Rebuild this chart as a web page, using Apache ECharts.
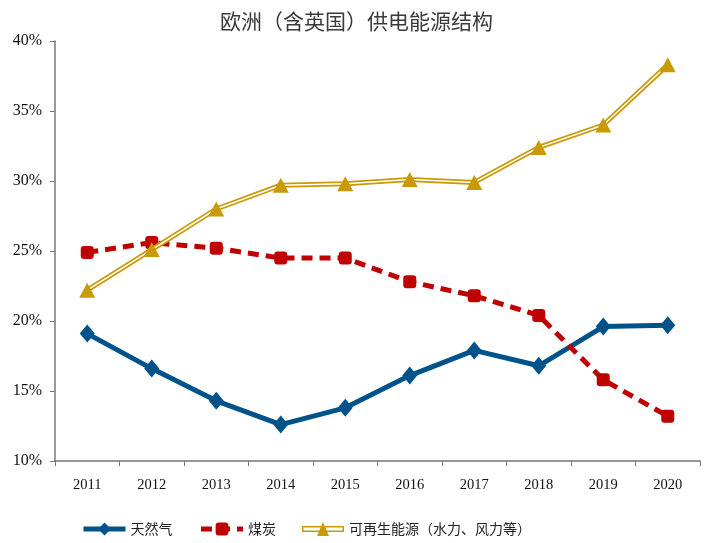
<!DOCTYPE html>
<html><head><meta charset="utf-8">
<script src="https://cdn.jsdelivr.net/npm/echarts@6/dist/echarts.min.js"></script>
<style>html,body{margin:0;padding:0;background:#fff}#c{width:713px;height:543px}</style>
</head><body><div id="c"></div>
<script>
var years = ['2011','2012','2013','2014','2015','2016','2017','2018','2019','2020'];
var gas = [19.1, 16.6, 14.3, 12.6, 13.8, 16.1, 17.9, 16.8, 19.6, 19.7];
var coal = [24.9, 25.6, 25.2, 24.5, 24.5, 22.8, 21.8, 20.4, 15.8, 13.2];
var renew = [22.2, 25.1, 28.0, 29.7, 29.8, 30.1, 29.9, 32.4, 34.0, 38.3];
var yTicks = [10, 15, 20, 25, 30, 35, 40];
var names = ['天然气', '煤炭', '可再生能源（水力、风力等）'];

var chart = echarts.init(document.getElementById('c'));
var serifFont = '"Liberation Serif", "Times New Roman", serif';
var cjk = '"Noto Sans CJK SC", sans-serif';
var gold = '#C99A06';
chart.setOption({
  animation: false,
  title: {text: '欧洲（含英国）供电能源结构', left: 'center', top: 6,
    textStyle: {fontFamily: cjk, fontSize: 21, fontWeight: 'normal', color: '#3a3a3a'}},
  grid: {left: 55, right: 13, top: 41, bottom: 82},
  legend: {
    bottom: 2, left: 76, itemGap: 26, itemWidth: 42, itemHeight: 16,
    textStyle: {fontFamily: cjk, fontSize: 14, color: '#222'},
    data: [
      {name: names[0], lineStyle: {width: 5}},
      {name: names[1], lineStyle: {width: 5}},
      {name: names[2], icon: 'path://M0,5 L42,5 L42,11 L0,11 Z M1.5,6.5 L1.5,9.5 L40.5,9.5 L40.5,6.5 Z M21,1 L27,15 L15,15 Z'}
    ]
  },
  xAxis: {
    type: 'category', data: years, boundaryGap: true,
    axisLine: {lineStyle: {color: '#777', width: 1.5}},
    axisTick: {show: true, length: 5, inside: false, lineStyle: {color: '#777'}},
    axisLabel: {fontFamily: serifFont, fontSize: 14.5, color: '#111', margin: 17}
  },
  yAxis: {
    type: 'value', min: yTicks[0], max: yTicks[yTicks.length - 1], interval: 5,
    splitLine: {show: false},
    axisLine: {show: true, lineStyle: {color: '#777', width: 1.5}},
    axisTick: {show: true, length: 5, lineStyle: {color: '#777'}},
    axisLabel: {fontFamily: serifFont, fontSize: 16, color: '#111', margin: 13, formatter: '{value}%'}
  },
  series: [
    {name: names[0], type: 'line', data: gas, symbol: 'diamond', symbolSize: [15, 18],
      itemStyle: {color: '#00538A'}, lineStyle: {color: '#00538A', width: 5}, z: 3},
    {name: names[1], type: 'line', data: coal, symbol: 'roundRect', symbolSize: 13,
      itemStyle: {color: '#C00000'}, lineStyle: {color: '#C00000', width: 5, type: [11, 7]}, z: 4},
    {name: names[2], type: 'line', data: renew, showSymbol: false, symbol: 'none',
      itemStyle: {color: gold}, lineStyle: {color: gold, width: 5}, z: 5},
    {name: 'renew-inner', type: 'line', data: renew, symbol: 'none', silent: true,
      lineStyle: {color: '#fff', width: 1.5}, z: 6},
    {name: 'renew-marks', type: 'line', data: renew, symbol: 'triangle', symbolSize: [16, 15], silent: true,
      itemStyle: {color: gold}, lineStyle: {width: 0, opacity: 0}, z: 7}
  ]
});
</script></body></html>
